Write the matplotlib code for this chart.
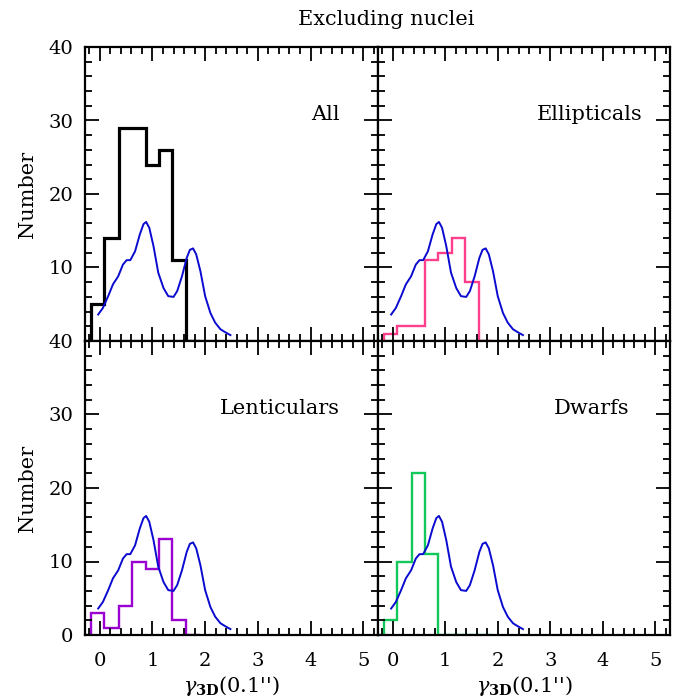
import numpy as np
import matplotlib
matplotlib.use('Agg')
from matplotlib import pyplot as plt
from matplotlib.ticker import MultipleLocator

plt.rcParams['font.family'] = 'DejaVu Serif'
plt.rcParams['mathtext.fontset'] = 'dejavuserif'

# bin edges of the histograms (gamma_3D)
edges = [-0.42, -0.17, 0.09, 0.36, 0.62, 0.87, 1.12, 1.38, 1.64, 1.90]

# counts per bin
all_counts = [0, 5, 14, 29, 29, 24, 26, 11, 0]
ell_counts = [0, 1, 2, 2, 11, 12, 14, 8, 0]
len_counts = [0, 3, 1, 4, 10, 9, 13, 2, 0]
dwf_counts = [0, 2, 10, 22, 11, 0, 0, 0, 0]

# blue reference curve (same in every panel)
curve_x = [-0.03, 0.06, 0.16, 0.25, 0.35, 0.44, 0.51, 0.58, 0.67, 0.76, 0.83,
           0.88, 0.94, 1.02, 1.11, 1.21, 1.30, 1.40, 1.47, 1.56, 1.65, 1.71,
           1.77, 1.83, 1.91, 2.00, 2.10, 2.19, 2.29, 2.38, 2.48]
curve_y = [3.6, 4.5, 6.1, 7.7, 8.8, 10.4, 11.0, 11.0, 12.2, 14.5, 15.9,
           16.2, 15.4, 12.9, 9.3, 7.2, 6.1, 6.0, 6.8, 8.8, 11.3, 12.4,
           12.6, 11.8, 9.5, 6.1, 3.8, 2.5, 1.6, 1.2, 0.8]

panels = [
    ('All', all_counts, 'black', 2.3, 0.87),
    ('Ellipticals', ell_counts, '#ff3f8c', 1.7, 0.905),
    ('Lenticulars', len_counts, '#9a00d2', 1.7, 0.87),
    ('Dwarfs', dwf_counts, '#12c85a', 1.7, 0.86),
]

fig = plt.figure(figsize=(6.83, 7.0), dpi=100)

L, M, R = 85/683, 378/683, 670/683
T, C, B = 1-47/700, 1-341/700, 1-635/700
boxes = [(L, C, M-L, T-C), (M, C, R-M, T-C), (L, B, M-L, C-B), (M, B, R-M, C-B)]

for i, (name, counts, col, lw, tx) in enumerate(panels):
    ax = fig.add_axes(boxes[i])
    ax.stairs(counts, edges, baseline=None, color=col, lw=lw)
    ax.plot(curve_x, curve_y, color='#0a0ad0', lw=1.4)
    ax.set_xlim(-0.28, 5.28)
    ax.set_ylim(0, 40)
    ax.xaxis.set_major_locator(MultipleLocator(1))
    ax.xaxis.set_minor_locator(MultipleLocator(0.2))
    ax.yaxis.set_major_locator(MultipleLocator(10))
    ax.yaxis.set_minor_locator(MultipleLocator(2))
    ax.tick_params(which='both', direction='in', top=True, right=True, width=1.3, labelsize=14)
    ax.tick_params(which='major', length=10)
    ax.tick_params(which='minor', length=5)
    ax.tick_params(axis='x', pad=12)
    ax.tick_params(axis='y', pad=8.5)
    for s in ax.spines.values():
        s.set_linewidth(1.6)
    ax.text(tx, 0.77, name, transform=ax.transAxes, ha='right', va='center', fontsize=15)
    if i < 2:
        ax.set_xticklabels([])
    else:
        ax.set_xlabel(r"$\gamma_{\mathbf{3D}}$(0.1'')", fontsize=15, labelpad=3)
    if i % 2 == 1:
        ax.set_yticklabels([])
    else:
        ax.set_ylabel('Number', fontsize=15, labelpad=8)
        if i == 0:
            ax.set_yticks([10, 20, 30, 40])

fig.text(0.565, 0.972, 'Excluding nuclei', ha='center', va='center', fontsize=15)

fig.savefig('out.png', dpi=100)
